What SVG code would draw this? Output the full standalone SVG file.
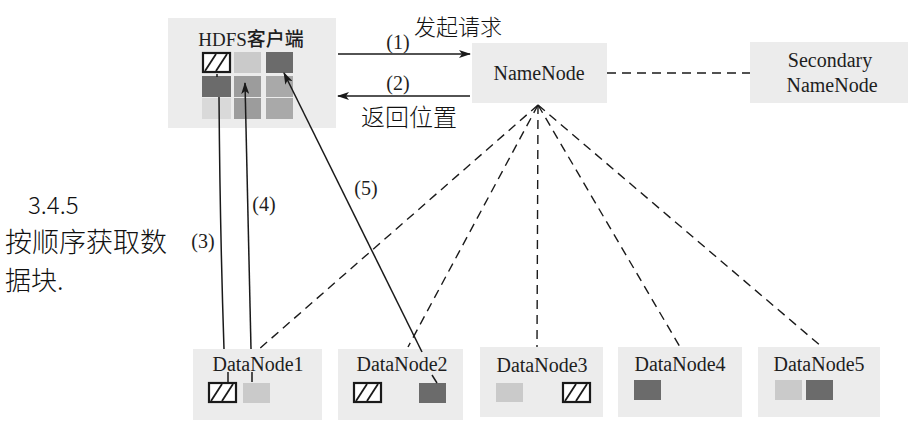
<svg xmlns="http://www.w3.org/2000/svg" width="920" height="428" viewBox="0 0 920 428">
  <defs>
    <style>
      .box { fill: #ececec; }
      .lbl { font-family: "Liberation Serif", "Noto Sans CJK SC", serif; fill: #1e1e1e; text-anchor: middle; }
      .hand { font-family: "Noto Sans CJK SC", sans-serif; fill: #111; font-weight: 300; }
      .solid { stroke: #1a1a1a; stroke-width: 1.5; fill: none; }
      .dash { stroke: #1a1a1a; stroke-width: 1.4; fill: none; stroke-dasharray: 9 6; }
      .dk { fill: #6b6b6b; }
      .lt { fill: #cacaca; }
      .md { fill: #9c9c9c; }
      .md2 { fill: #a9a9a9; }
      .pl { fill: #d9d9d9; }
    </style>
    <g id="hatch">
      <rect x="1" y="1" width="27" height="19" fill="#ffffff" stroke="#1a1a1a" stroke-width="2.2"/>
      <line x1="3" y1="19" x2="14" y2="2" stroke="#1a1a1a" stroke-width="1.8"/>
      <line x1="14" y1="19" x2="25" y2="2" stroke="#1a1a1a" stroke-width="1.8"/>
    </g>
    <marker id="arr" viewBox="0 0 12 8" refX="11" refY="4" markerWidth="12" markerHeight="8" markerUnits="userSpaceOnUse" orient="auto">
      <path d="M0,0 L12,4 L0,8 L3,4 z" fill="#1a1a1a"/>
    </marker>
  </defs>

  <rect width="920" height="428" fill="#ffffff"/>

  <g id="hdfs-client">
    <rect class="box" x="168" y="18" width="168" height="110"/>
    <text class="lbl" x="251" y="46" font-size="19" font-weight="500">HDFS客户端</text>
    <use href="#hatch" x="202" y="52"/>
    <rect class="lt" x="234" y="52" width="27" height="21"/>
    <rect class="dk" x="266" y="52" width="27" height="21"/>
    <rect class="dk" x="202" y="76" width="29" height="21"/>
    <rect class="md" x="234" y="76" width="27" height="21"/>
    <rect class="md2" x="266" y="76" width="27" height="21"/>
    <rect class="pl" x="202" y="98" width="29" height="21"/>
    <rect class="md" x="234" y="98" width="27" height="21"/>
    <rect class="md2" x="266" y="98" width="27" height="21"/>
  </g>

  <g id="namenode">
    <rect class="box" x="472" y="43" width="135" height="60"/>
    <text class="lbl" x="539" y="80" font-size="20">NameNode</text>
  </g>

  <g id="secondary-namenode">
    <rect class="box" x="750" y="42" width="158" height="61"/>
    <text class="lbl" x="830" y="67" font-size="20">Secondary</text>
    <text class="lbl" x="832" y="92" font-size="20">NameNode</text>
  </g>

  <g id="datanode1">
    <rect class="box" x="193" y="349" width="129" height="71"/>
    <text class="lbl" x="258" y="371" font-size="20">DataNode1</text>
    <use href="#hatch" x="208" y="382"/>
    <rect class="lt" x="243" y="383" width="27" height="20"/>
  </g>

  <g id="datanode2">
    <rect class="box" x="338" y="349" width="125" height="71"/>
    <text class="lbl" x="402" y="371" font-size="20">DataNode2</text>
    <use href="#hatch" x="353" y="382"/>
    <rect class="dk" x="419" y="383" width="27" height="20"/>
  </g>

  <g id="datanode3">
    <rect class="box" x="480" y="347" width="123" height="70"/>
    <text class="lbl" x="542" y="372" font-size="20">DataNode3</text>
    <rect class="lt" x="496" y="383" width="27" height="19"/>
    <use href="#hatch" x="562" y="382"/>
  </g>

  <g id="datanode4">
    <rect class="box" x="618" y="347" width="124" height="70"/>
    <text class="lbl" x="680" y="371" font-size="20">DataNode4</text>
    <rect class="dk" x="634" y="380" width="27" height="20"/>
  </g>

  <g id="datanode5">
    <rect class="box" x="758" y="347" width="122" height="70"/>
    <text class="lbl" x="819" y="371" font-size="20">DataNode5</text>
    <rect class="lt" x="775" y="380" width="27" height="20"/>
    <rect class="dk" x="806" y="380" width="27" height="20"/>
  </g>

  <g id="connectors">
    <line class="solid" x1="338" y1="54" x2="470" y2="54" marker-end="url(#arr)"/>
    <line class="solid" x1="470" y1="96" x2="338" y2="96" marker-end="url(#arr)"/>
    <line class="dash" x1="607" y1="73" x2="750" y2="73"/>

    <path class="dash" d="M538,105 L258,350"/>
    <path class="dash" d="M538,105 L408,347"/>
    <path class="dash" d="M538,105 L537,347"/>
    <path class="dash" d="M538,105 L680,347"/>
    <path class="dash" d="M538,105 L822,347"/>

    <path class="solid" d="M217,74 L217,77 M219,97 Q220,230 224,349"/>
    <line class="solid" x1="228" y1="372" x2="228" y2="382"/>
    <path class="solid" d="M251,349 Q248,220 245,83" marker-end="url(#arr)"/>
    <line class="solid" x1="252" y1="372" x2="252" y2="382"/>
    <path class="solid" d="M422,352 L284,73" marker-end="url(#arr)"/>
    <line class="solid" x1="432" y1="375" x2="437" y2="383"/>

    <text class="lbl" x="398" y="49" font-size="20">(1)</text>
    <text class="lbl" x="398" y="90" font-size="20">(2)</text>
    <text class="lbl" x="203" y="248" font-size="20">(3)</text>
    <text class="lbl" x="264" y="211" font-size="20">(4)</text>
    <text class="lbl" x="366" y="195" font-size="20">(5)</text>
  </g>

  <g id="notes">
    <text class="hand" x="414" y="35" font-size="22">发起请求</text>
    <text class="hand" x="361" y="126" font-size="24">返回位置</text>
    <text class="hand" x="28" y="214" font-size="24">3.4.5</text>
    <text class="hand" x="5" y="252" font-size="27">按顺序获取数</text>
    <text class="hand" x="5" y="290" font-size="26">据块.</text>
  </g>
</svg>
